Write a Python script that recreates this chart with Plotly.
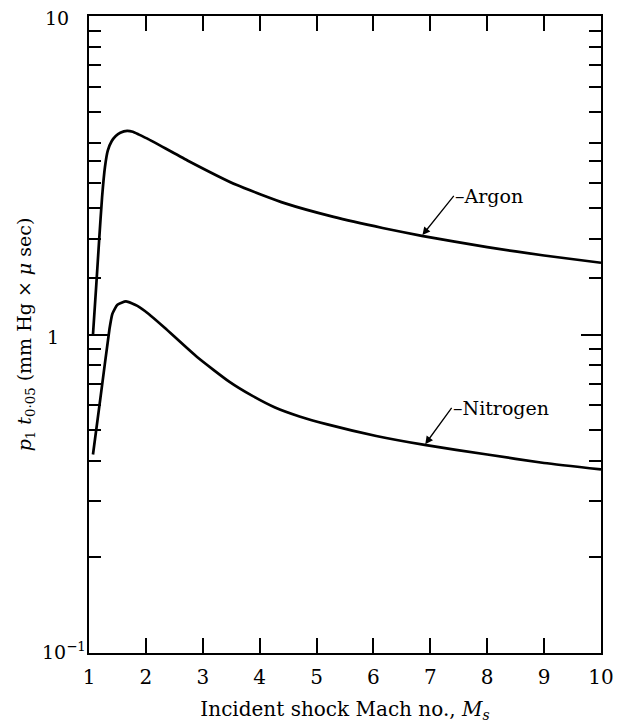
import numpy as np
import plotly.graph_objects as go

# ---- data ----
argon_M = [1.07, 1.13, 1.18, 1.23, 1.28, 1.33, 1.40, 1.47, 1.55, 1.67, 1.77, 1.87, 2.05,
           2.73, 3.59, 4.45, 5.30, 6.16, 6.85, 8.0, 9.0, 10.0]
argon_v = [1.00, 1.45, 2.00, 2.70, 3.35, 3.78, 4.05, 4.20, 4.30, 4.36, 4.33, 4.25, 4.10,
           3.52, 2.95, 2.58, 2.34, 2.16, 2.04, 1.88, 1.77, 1.68]

nitrogen_M = [1.07, 1.20, 1.36, 1.41, 1.50, 1.65, 1.85, 2.05, 2.33, 2.90, 3.47, 3.85,
              4.27, 4.70, 5.19, 6.05, 6.90, 8.0, 9.0, 10.0]
nitrogen_v = [0.42, 0.63, 1.04, 1.16, 1.24, 1.27, 1.23, 1.16, 1.05, 0.85, 0.71, 0.645,
              0.59, 0.553, 0.522, 0.48, 0.45, 0.42, 0.395, 0.377]

x_ticks = [1, 2, 3, 4, 5, 6, 7, 8, 9, 10]
y_major = [0.1, 1, 10]
y_major_text = ["10<sup>\u22121</sup>", "1", "10"]
y_minor = [0.2, 0.3, 0.4, 0.5, 0.6, 0.7, 0.8, 0.9,
           1.5, 2, 2.5, 3, 3.5, 4, 5, 6, 7, 8, 9]

labels = ["Argon", "Nitrogen"]
label_at_M = [6.85, 6.90]

FONT = "DejaVu Serif"

fig = go.Figure()
for mx, vy in [(argon_M, argon_v), (nitrogen_M, nitrogen_v)]:
    fig.add_trace(go.Scatter(x=mx, y=vy, mode="lines",
                             line=dict(color="black", width=2.7, shape="spline", smoothing=0.5),
                             showlegend=False, hoverinfo="skip"))

# curve labels with arrows
series = [(argon_M, argon_v), (nitrogen_M, nitrogen_v)]
offsets = [(32, -40), (27, -37)]
for (mx, vy), lab, m, (ax, ay) in zip(series, labels, label_at_M, offsets):
    yv = 10 ** np.interp(m, mx, np.log10(vy))
    fig.add_annotation(x=m, y=np.log10(yv), xref="x", yref="y",
                       text="\u2013" + lab, showarrow=True, xanchor="left", yanchor="middle",
                       ax=ax, ay=ay, arrowhead=2, arrowsize=1.2, arrowwidth=1.3,
                       arrowcolor="black", standoff=1, borderpad=0,
                       font=dict(family=FONT, size=19, color="black"))

# y tick labels (placed as text beside the axis)
y_label_shift = [-25, -36, -32]
y_label_yshift = [2, -2, -2]
for v, t, s, ys in zip(y_major, y_major_text, y_label_shift, y_label_yshift):
    fig.add_annotation(x=0, y=np.log10(v), xref="paper", yref="y", text=t,
                       showarrow=False, xanchor="center", yanchor="middle",
                       xshift=s, yshift=ys,
                       font=dict(family=FONT, size=19, color="black"))

fig.update_layout(
    width=625, height=728,
    margin=dict(l=89, r=11, t=16, b=63),
    paper_bgcolor="white", plot_bgcolor="white",
    font=dict(family=FONT, size=19, color="black"),
)
fig.update_xaxes(
    range=[1, 10], tickvals=x_ticks, ticktext=[str(v) for v in x_ticks],
    ticks="inside", ticklen=15, tickwidth=1.5, tickcolor="black",
    showline=True, linecolor="black", linewidth=2, mirror="ticks",
    showgrid=False, zeroline=False, ticklabelstandoff=5,
    tickfont=dict(family=FONT, size=20),
    title=dict(text="Incident shock Mach no., <i>M<sub>s</sub></i>",
               font=dict(family=FONT, size=20), standoff=14),
)
fig.update_yaxes(
    type="log", range=[-1, 1], tickvals=y_major, showticklabels=False,
    ticks="inside", ticklen=20, tickwidth=1.5, tickcolor="black",
    minor=dict(tickvals=y_minor, ticks="inside", ticklen=12, tickwidth=1.5,
               tickcolor="black", showgrid=False),
    showline=True, linecolor="black", linewidth=2, mirror="ticks",
    showgrid=False, zeroline=False,
    title=dict(text="<i>p</i><sub>1</sub> <i>t</i><sub>0\u00b705</sub> (mm Hg \u00d7 <i>\u03bc</i> sec)",
               font=dict(family=FONT, size=19), standoff=50),
)

fig.write_html("out.html")
